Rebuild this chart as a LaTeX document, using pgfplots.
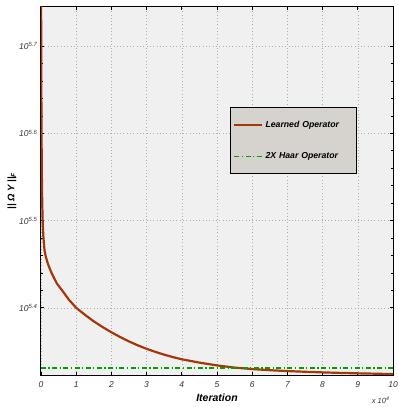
\documentclass[border=0pt]{standalone}
\usepackage{fontspec}
\setmainfont{Liberation Sans}
\usepackage{pgfplots}
\pgfplotsset{compat=1.18}
\definecolor{curvecol}{RGB}{165,55,10}
\definecolor{haarcol}{RGB}{0,160,0}
\definecolor{axisbg}{RGB}{240,240,240}
\definecolor{legbg}{RGB}{214,211,206}
\begin{document}
\begin{tikzpicture}
\begin{axis}[
  scale only axis,
  width=352pt, height=368pt,
  xmin=0, xmax=10,
  ymin=5.323, ymax=5.745,
  xtick={0,1,2,3,4,5,6,7,8,9,10},
  ytick={5.4,5.5,5.6,5.7},
  yticklabels={10\textsuperscript{5.4},10\textsuperscript{5.5},10\textsuperscript{5.6},10\textsuperscript{5.7}},
  minor y tick num=4,
  /pgf/number format/assume math mode=true,
  ticklabel style={font=\itshape\fontsize{8.5}{10}\selectfont, text=black!80},
  xticklabel style={yshift=-3pt},
  tick style={black, thick},
  major tick length=3pt,
  minor tick length=2pt,
  tick align=inside,
  grid=major,
  major grid style={dash pattern=on 0.7pt off 2.6pt, gray!65, line width=0.6pt},
  axis background/.style={fill=axisbg},
  axis line style={black, line width=1pt},
  xlabel={\bfseries\itshape Iteration},
  xlabel style={font=\fontsize{10.5}{12}\selectfont, yshift=1pt},
  ylabel={\bfseries\itshape || Ω Y ||\textsubscript{F}},
  ylabel style={font=\fontsize{9.5}{11}\selectfont, yshift=-4pt},
  legend style={at={(0.537,0.728)}, anchor=north west, fill=legbg, draw=black, line width=0.6pt,
    font=\bfseries\itshape\fontsize{8.7}{10}\selectfont, row sep=20pt, inner xsep=3pt, inner ysep=11.5pt,
    nodes={text width=86pt, anchor=west}},
  legend cell align=left,
  legend image code/.code={\draw[#1] plot coordinates {(0pt,0pt) (28pt,0pt)};},
]
\addplot[curvecol, line width=2.2pt] coordinates {
(0,5.80) (0.008,5.67) (0.015,5.60) (0.025,5.55) (0.035,5.52) (0.05,5.495) (0.07,5.48)
(0.1,5.466) (0.14,5.458) (0.2,5.450) (0.3,5.440) (0.45,5.428) (0.6,5.420) (0.8,5.409)
(1.0,5.400) (1.25,5.392) (1.5,5.3845) (1.75,5.378) (2.0,5.372) (2.25,5.3665) (2.5,5.3615)
(2.75,5.357) (3.0,5.353) (3.25,5.3495) (3.5,5.3463) (3.75,5.3435) (4.0,5.3410) (4.5,5.3372)
(5.0,5.3340) (5.5,5.3315) (6.0,5.3298) (6.5,5.3285) (7.0,5.3275) (7.5,5.3267) (8.0,5.3260)
(8.5,5.3254) (9.0,5.3249) (9.5,5.3245) (10.0,5.3240)
};
\addlegendentry{Learned Operator}
\addplot[haarcol, line width=1.8pt, dash pattern=on 5pt off 2.5pt on 1.2pt off 2.5pt] coordinates {
(0,5.3313) (10,5.3313)
};
\addlegendentry{2X Haar Operator}
\end{axis}
\node[anchor=south east, font=\itshape\fontsize{7.5}{9}\selectfont, text=black!80] at ([yshift=-32pt]current axis.south east) {x 10\textsuperscript{4}};
\pgfresetboundingbox
\path ([xshift=-41pt,yshift=-32pt]current axis.south west) rectangle ([xshift=5pt,yshift=7pt]current axis.north east);
\end{tikzpicture}
\end{document}
